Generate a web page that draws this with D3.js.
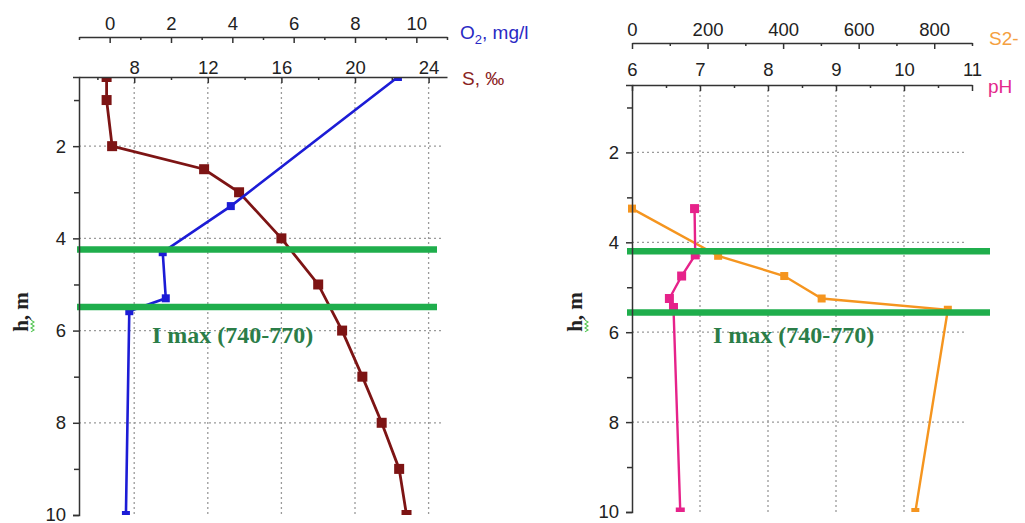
<!DOCTYPE html>
<html>
<head>
<meta charset="utf-8">
<script src="https://cdn.jsdelivr.net/npm/d3@7"></script>
<style>
  body { margin: 0; background: #fff; }
  svg text { font-family: "Liberation Sans", Arial, sans-serif; }
  .axis path, .axis line { stroke: #333; stroke-width: 1.5px; }
  .axis text { font-size: 18.5px; fill: #222; font-family: "Liberation Sans", Arial, sans-serif; }
  .grid line { stroke: #9a9a9a; stroke-width: 1.3px; stroke-dasharray: 2,3; }
</style>
</head>
<body>
<svg id="chart" width="1025" height="523"></svg>
<script>
/* global d3 */

// ---- left panel: salinity and oxygen vs depth ----
var depthS   = [0.5, 1, 2, 2.5, 3, 4, 5, 6, 7, 8, 9, 10];
var salinity = [6.5, 6.5, 6.8, 11.8, 13.7, 16.0, 18.0, 19.3, 20.4, 21.45, 22.4, 22.8];

var depthO2 = [0.5, 3.3, 4.3, 5.3, 5.58, 10];
var oxygen  = [9.4, 3.95, 1.73, 1.83, 0.64, 0.53];

// ---- right panel: pH and sulfide vs depth ----
var depthPH = [3.25, 4.28, 4.75, 5.25, 5.45, 10];
var phValues = [6.92, 6.93, 6.73, 6.55, 6.61, 6.71];

var depthSulf = [3.25, 4.3, 4.75, 5.25, 5.5, 10];
var sulfide   = [0, 228, 403, 502, 836, 750];

// tick labels
var depthTicks = [2, 4, 6, 8, 10];
var depthMinor = [1, 3, 5, 7, 9];
var oxyTicks = [0, 2, 4, 6, 8, 10];
var salTicks = [8, 12, 16, 20, 24];
var sulfTicks = [0, 200, 400, 600, 800];
var phTicks = [6, 7, 8, 9, 10, 11];

// depth of the light maximum band (green lines), per panel
var bandLeft = [4.24, 5.49];
var bandRight = [4.2, 5.56];
var bandLabel = "I max (740-770)";

var svg = d3.select("#chart");

var cfg = {
  green: "#1fae4c",
  labelGreen: "#2b7d48",
  red: "#7d1414",
  blue: "#1c1cd6",
  orange: "#f5951f",
  pink: "#e6228a"
};

function toPoints(xs, ys) {
  return xs.map(function(v, i) { return {x: v, h: ys[i]}; });
}

var clipN = 0;

function drawPanel(p) {
  var g = svg.append("g");
  var y = p.y, x1 = p.xTop, x2 = p.xBottom;
  var xr = x2.range();

  // grid
  var grid = g.append("g").attr("class", "grid");
  grid.selectAll(".v").data(p.vGrid).enter().append("line")
    .attr("x1", function(d) { return p.gridScale(d); })
    .attr("x2", function(d) { return p.gridScale(d); })
    .attr("y1", y.range()[0]).attr("y2", y.range()[1]);
  grid.selectAll(".hz").data([2, 4, 6, 8]).enter().append("line")
    .attr("x1", xr[0]).attr("x2", xr[1] - 6)
    .attr("y1", function(d) { return y(d); })
    .attr("y2", function(d) { return y(d); });

  // clip (vertical only) for markers at the ends
  var cid = "clip" + (clipN++);
  g.append("clipPath").attr("id", cid).append("rect")
    .attr("x", 0).attr("width", 1025)
    .attr("y", y.range()[0]).attr("height", y.range()[1] - y.range()[0]);
  var plot = g.append("g").attr("clip-path", "url(#" + cid + ")");

  p.series.forEach(function(s) {
    var line = d3.line()
      .x(function(d) { return s.scale(d.x); })
      .y(function(d) { return y(d.h); });
    plot.append("path")
      .datum(s.data)
      .attr("d", line)
      .style("fill", "none")
      .style("stroke", s.color)
      .style("stroke-width", s.width);
    plot.selectAll(null).data(s.data).enter().append("rect")
      .attr("x", function(d) { return s.scale(d.x) - s.size / 2; })
      .attr("y", function(d) { return y(d.h) - s.size / 2; })
      .attr("width", s.size).attr("height", s.size)
      .style("fill", s.color);
  });

  // green band lines
  g.selectAll(".band").data(p.band).enter().append("line")
    .attr("x1", p.bandX[0]).attr("x2", p.bandX[1])
    .attr("y1", function(d) { return y(d); })
    .attr("y2", function(d) { return y(d); })
    .style("stroke", cfg.green).style("stroke-width", 6.5);

  g.append("text")
    .attr("x", p.labelPos[0]).attr("y", y(p.labelPos[1]))
    .style("font-family", '"Liberation Serif", "Times New Roman", serif')
    .style("font-weight", "bold").style("font-size", "24px")
    .style("fill", cfg.labelGreen)
    .text(bandLabel);

  // left depth axis
  g.append("g").attr("class", "axis")
    .attr("transform", "translate(" + xr[0] + ",0)")
    .call(d3.axisLeft(y).tickValues(depthTicks).tickSizeOuter(0).tickSize(6).tickPadding(7));
  g.append("g").attr("class", "axis")
    .attr("transform", "translate(" + xr[0] + ",0)")
    .call(d3.axisLeft(y).tickValues(depthMinor).tickSizeOuter(0).tickSize(5).tickFormat(""))
    .select(".domain").remove();

  // top axes
  var fmt = d3.format("d");
  g.append("g").attr("class", "axis")
    .attr("transform", "translate(0," + p.topY + ")")
    .call(d3.axisTop(x1).tickValues(p.topTicks).tickFormat(fmt).tickSizeInner(-6).tickSizeOuter(0).tickPadding(7));
  g.append("g").attr("class", "axis")
    .attr("transform", "translate(0," + p.topY + ")")
    .call(d3.axisTop(x1).tickValues(p.topMinor).tickSizeInner(-3).tickSizeOuter(0).tickFormat(""))
    .select(".domain").remove();

  g.append("g").attr("class", "axis")
    .attr("transform", "translate(0," + y.range()[0] + ")")
    .call(d3.axisTop(x2).tickValues(p.botTicks).tickFormat(fmt).tickSizeInner(-6).tickSizeOuter(0).tickPadding(p.botPad));
  g.append("g").attr("class", "axis")
    .attr("transform", "translate(0," + y.range()[0] + ")")
    .call(d3.axisTop(x2).tickValues(p.botMinor).tickSizeInner(-3).tickSizeOuter(0).tickFormat(""))
    .select(".domain").remove();

  // axis titles
  var t1 = g.append("text").attr("x", p.title1[0]).attr("y", p.title1[1])
    .style("font-size", "19px").style("fill", p.title1[3]);
  p.title1[2].forEach(function(part) {
    var ts = t1.append("tspan").text(part.t);
    if (part.sub) ts.attr("dy", 5).style("font-size", "13px");
    if (part.back) ts.attr("dy", -5);
  });
  g.append("text").attr("x", p.title2[0]).attr("y", p.title2[1])
    .style("font-size", "19px").style("fill", p.title2[3])
    .text(p.title2[2]);

  // depth title, with the little green squiggle under the "h"
  var yg = g.append("g")
    .attr("transform", "translate(" + p.yTitle[0] + "," + p.yTitle[1] + ") rotate(-90)");
  var yt = yg.append("text")
    .attr("text-anchor", "middle")
    .style("font-family", '"Liberation Serif", "Times New Roman", serif')
    .style("font-weight", "bold").style("font-size", "21px").style("fill", "#222")
    .text("h, m");
  var total = yt.node().getComputedTextLength();
  var hw = yt.node().getSubStringLength(0, 1);
  var x0 = -total / 2, pts = [];
  for (var k = 0; k <= 6; k++) {
    pts.push([x0 + k * hw / 6, k % 2 ? 6 : 3]);
  }
  yg.append("path").attr("d", d3.line()(pts))
    .style("fill", "none").style("stroke", "#52c552").style("stroke-width", 1.1);
}

// left panel scales
var yL = d3.scaleLinear().domain([0.5, 10]).range([77, 515]);
var xSal = d3.scaleLinear().domain([5, 25]).range([79, 447]);
var xOxy = d3.scaleLinear().domain([-1, 11]).range([79, 447]);

drawPanel({
  y: yL, xTop: xOxy, xBottom: xSal, gridScale: xSal, vGrid: salTicks,
  topY: 37, topTicks: oxyTicks, topMinor: [-1, 1, 3, 5, 7, 9, 11],
  botTicks: salTicks, botMinor: [6, 10, 14, 18, 22], botPad: 3,
  series: [
    {data: toPoints(salinity, depthS), scale: xSal, color: cfg.red, size: 10, width: 2.8},
    {data: toPoints(oxygen, depthO2), scale: xOxy, color: cfg.blue, size: 8, width: 2.6}
  ],
  band: bandLeft, bandX: [77, 437],
  labelPos: [152, 6.26],
  title1: [460, 39, [{t: "O"}, {t: "2", sub: true}, {t: ", mg/l", back: true}], "#2a2ac4"],
  title2: [462, 85, "S, \u2030", "#8a2222"],
  yTitle: [28, 312]
});

// right panel scales
var yR = d3.scaleLinear().domain([0.5, 10]).range([85, 512]);
var xPH = d3.scaleLinear().domain([6, 11]).range([632, 972]);
var xSulf = d3.scaleLinear().domain([0, 900]).range([632, 972]);

drawPanel({
  y: yR, xTop: xSulf, xBottom: xPH, gridScale: xPH, vGrid: [7, 8, 9, 10],
  topY: 43, topTicks: sulfTicks, topMinor: [100, 300, 500, 700, 900],
  botTicks: phTicks, botMinor: [6.5, 7.5, 8.5, 9.5, 10.5], botPad: 9,
  series: [
    {data: toPoints(sulfide, depthSulf), scale: xSulf, color: cfg.orange, size: 8, width: 2.4},
    {data: toPoints(phValues, depthPH), scale: xPH, color: cfg.pink, size: 9, width: 2.4}
  ],
  band: bandRight, bandX: [627, 990],
  labelPos: [713, 6.24],
  title1: [989, 45, [{t: "S2-"}], "#f5a040"],
  title2: [988, 93, "pH", "#e3288c"],
  yTitle: [582, 312]
});
</script>
</body>
</html>
